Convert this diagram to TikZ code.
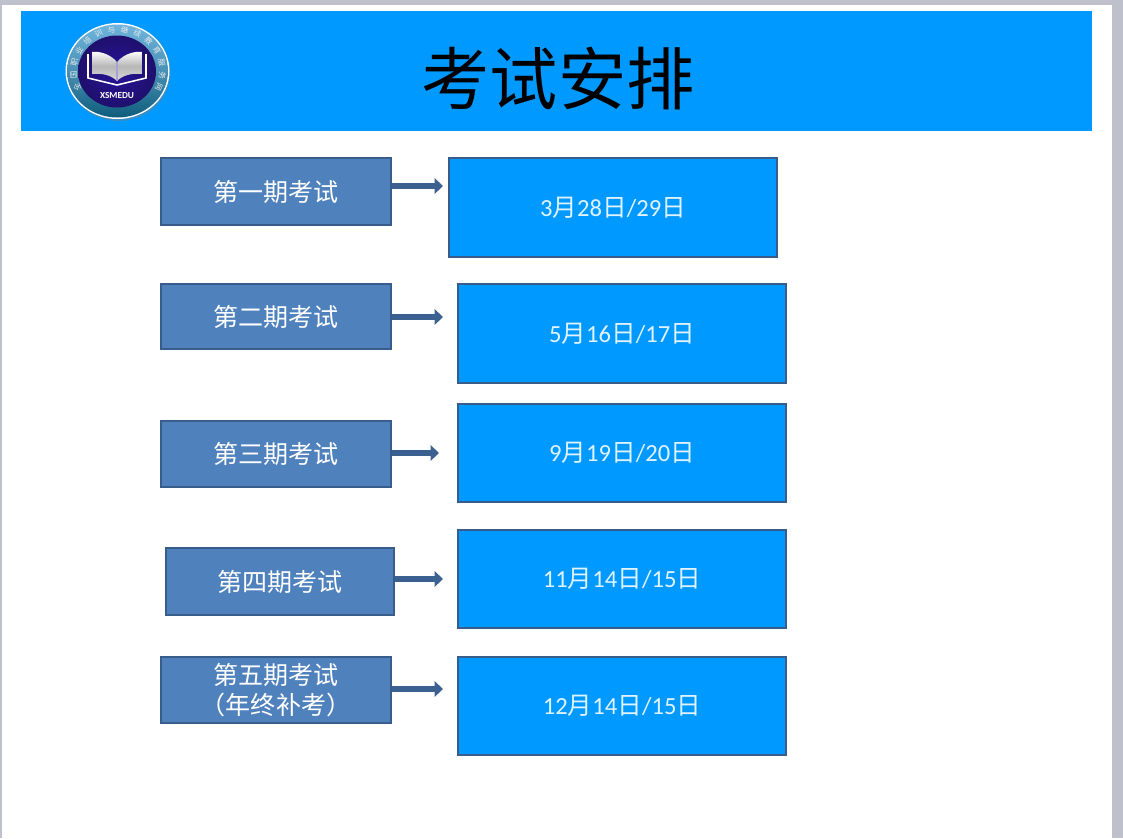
\documentclass[tikz,border=0pt]{standalone}
\usepackage{fontspec}
\setmainfont{Carlito}
\newfontfamily\cjk{Noto Sans CJK SC}
\usetikzlibrary{arrows.meta}
\usetikzlibrary{calc}
\definecolor{headblue}{HTML}{0099FF}
\definecolor{boxblue}{HTML}{4F81BD}
\definecolor{edgeblue}{HTML}{385D8A}
\definecolor{framegrey}{HTML}{BEC0CB}
\definecolor{ringtop}{HTML}{6FB4DC}
\definecolor{ringbot}{HTML}{0E5C7C}
\definecolor{logoviolet}{HTML}{2A1590}
\tikzset{
	exambox/.style={draw=edgeblue,fill=boxblue,line width=1.8pt,text=white,inner sep=0pt,align=center,font=\fontsize{17.8pt}{21.5pt}\selectfont\cjk},
	datebox/.style={draw=edgeblue,fill=headblue,line width=1.8pt,text=white!88!headblue,inner sep=0pt,font=\fontsize{17.5pt}{21pt}\selectfont},
	steparrow/.style={draw=edgeblue!90!boxblue,line width=4.2pt,-{Triangle[length=6pt,width=11pt]}},
	bookpage/.style={top color=white,bottom color=white!85!black,middle color=black!28},
	bookline/.style={draw=white,line width=0.8pt},
}
\newcommand{\yue}{{\cjk 月}}
\newcommand{\ri}{{\cjk 日}}
\begin{document}
\begin{tikzpicture}[x=0.025cm,y=-0.025cm]
	\useasboundingbox (0,0) rectangle (1123,838);
	\fill[framegrey] (0,0) rectangle (1123,838);
	\fill[white] (2,5) rectangle (1112,838);
	\fill[headblue] (21,11) rectangle (1092,131);
	\node[font=\fontsize{48.5pt}{50pt}\selectfont\cjk] (title) at (558,79) {考试安排};

	% logo
	\fill[black!50,opacity=0.45] (118.5,72.5) ellipse (52 and 48.5);
	\fill[white] (117.5,71) ellipse (52 and 48);
	\shade[top color=ringtop,bottom color=ringbot,middle color=ringtop!60!ringbot] (117.5,71) ellipse (50.5 and 46.5);
	\shade[inner color=logoviolet!90!blue,outer color=logoviolet!75!black] (117,71.5) circle (39 and 36);
	\draw[bookline,line width=1.1pt] (88,54) -- (88,78) -- (117,85) -- (146,78) -- (146,54);
	\shade[bookpage] (117,62) .. controls (110,54) and (100,51) .. (92,52) -- (92,74) .. controls (102,73) and (111,75) .. (117,81) -- cycle;
	\shade[bookpage] (117,62) .. controls (124,54) and (134,51) .. (142,52) -- (142,74) .. controls (132,73) and (123,75) .. (117,81) -- cycle;
	\draw[bookline,draw=logoviolet!40!white] (117,62) -- (117,81);
	\node[text=white,font=\fontsize{6.6pt}{7pt}\selectfont\bfseries,inner sep=0pt] (logotext) at (117,95) {XSMEDU};
	\foreach \ch [count=\i] in {全,国,职,业,培,训,与,继,续,教,育,服,务,网}
		\node[text=white!92!black,inner sep=0pt,rotate={203-(\i-1)*17.4-90},font=\fontsize{5.4pt}{5.4pt}\selectfont\cjk] (ring\i) at ({118+44.5*cos(203-(\i-1)*17.4)},{71-41.5*sin(203-(\i-1)*17.4)}) {\ch};

	% left column
	\node[exambox,minimum width=230*0.025cm,minimum height=67*0.025cm] (exam1) at (276,191.5) {第一期考试};
	\node[exambox,minimum width=230*0.025cm,minimum height=65*0.025cm] (exam2) at (276,316.5) {第二期考试};
	\node[exambox,minimum width=230*0.025cm,minimum height=66*0.025cm] (exam3) at (276,454) {第三期考试};
	\node[exambox,minimum width=228*0.025cm,minimum height=67*0.025cm] (exam4) at (280,581.5) {第四期考试};
	\node[exambox,minimum width=230*0.025cm,minimum height=66*0.025cm] (exam5) at (276,690) {第五期考试\\（年终补考）};

	% right column
	\node[datebox,minimum width=328*0.025cm,minimum height=99*0.025cm] (date1) at (613,207.5) {3\yue28\ri/29\ri};
	\node[datebox,minimum width=328*0.025cm,minimum height=99*0.025cm] (date2) at (622,333.5) {5\yue16\ri/17\ri};
	\node[datebox,minimum width=328*0.025cm,minimum height=98*0.025cm] (date3) at (622,453) {9\yue19\ri/20\ri};
	\node[datebox,minimum width=328*0.025cm,minimum height=98*0.025cm] (date4) at (622,579) {11\yue14\ri/15\ri};
	\node[datebox,minimum width=328*0.025cm,minimum height=98*0.025cm] (date5) at (622,706) {12\yue14\ri/15\ri};

	\coordinate (tip1) at (443,186);
	\coordinate (tip2) at (443,317);
	\coordinate (tip3) at (439,453);
	\coordinate (tip4) at (443,579);
	\coordinate (tip5) at (443,689);
	\foreach \n in {1,...,5}
		\draw[steparrow] (exam\n.east |- tip\n) -- (tip\n);
\end{tikzpicture}
\end{document}
